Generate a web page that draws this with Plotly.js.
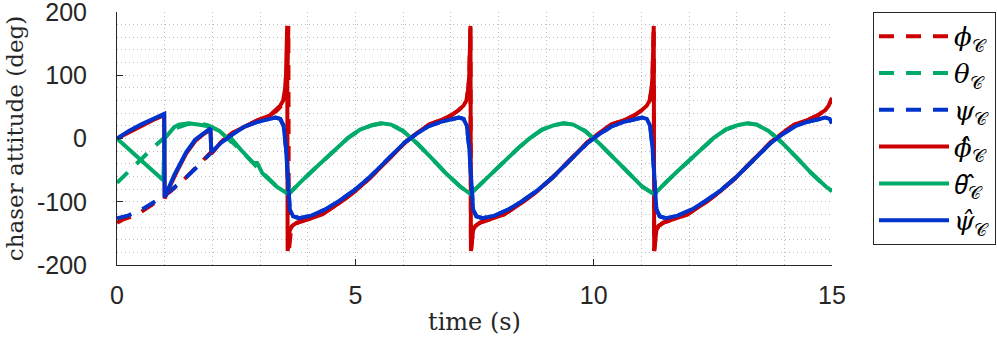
<!DOCTYPE html>
<html>
<head>
<meta charset="utf-8">
<script src="https://cdn.plot.ly/plotly-3.0.1.min.js"></script>
<style>
  html, body { margin: 0; padding: 0; background: #fff; }
  #att-plot { width: 997px; height: 347px; }
</style>
</head>
<body>
<div id="att-plot"></div>
<script>
// true attitude (dashed)
var tPhi = [0, 0.13, 0.43, 0.83, 1.13, 1.43, 1.68, 1.93, 2.18, 2.43, 2.68, 2.98, 3.2,
  3.35, 3.45, 3.51, 3.55, 3.57, 3.585, 3.595, 3.605, 3.62, 3.65, 3.7, 3.8, 4.0, 4.3,
  4.7, 5.0, 5.3, 5.55, 5.8, 6.05, 6.3, 6.55, 6.82, 7.02,
  7.17, 7.27, 7.33, 7.37, 7.39, 7.405, 7.415, 7.425, 7.44, 7.47, 7.52, 7.62, 7.82, 8.12,
  8.52, 8.82, 9.12, 9.37, 9.62, 9.87, 10.12, 10.37, 10.665, 10.865,
  11.015, 11.115, 11.175, 11.215, 11.235, 11.25, 11.26, 11.27, 11.285, 11.315, 11.365, 11.465, 11.665, 11.965,
  12.365, 12.665, 12.965, 13.215, 13.465, 13.715, 13.965, 14.215, 14.51, 14.71, 14.86, 14.93, 15.0];
var phiTrue = [-133, -128, -120, -100, -83, -63, -44, -24, -6, 9, 19, 30, 36,
  44, 52, 60, 78, 100, 140, 178, -178, -158, -145, -138, -133, -128, -120,
  -100, -83, -63, -44, -24, -6, 9, 22, 30, 37,
  45, 52, 60, 78, 100, 140, 178, -178, -158, -145, -138, -133, -128, -120,
  -100, -83, -63, -44, -24, -6, 9, 22, 30, 37,
  45, 52, 60, 78, 100, 140, 178, -178, -158, -145, -138, -133, -128, -120,
  -100, -83, -63, -44, -24, -6, 9, 22, 30, 37, 45, 52, 64];

var tTheta = [0, 0.25, 0.5, 0.75, 1.0, 1.25, 1.5, 1.7, 1.9, 2.15, 2.45, 2.75, 3.05, 3.35, 3.6,
  3.7, 3.85, 4.1, 4.35, 4.6, 4.85, 5.1, 5.35, 5.55, 5.75, 6.0, 6.3, 6.6, 6.9, 7.2, 7.42,
  7.52, 7.67, 7.92, 8.17, 8.42, 8.67, 8.92, 9.17, 9.37, 9.57, 9.82, 10.12, 10.42, 10.72, 11.02, 11.27,
  11.37, 11.52, 11.77, 12.02, 12.27, 12.52, 12.77, 13.02, 13.22, 13.42, 13.67, 13.97, 14.27, 14.57, 14.87, 15.0];
var thetaTrue = [-70, -51, -33, -15, 2, 17, 23, 24, 21, 12, -8, -31, -55, -76, -88,
  -80, -69, -51, -33, -15, 1, 14, 21, 24, 22, 12, -8, -31, -55, -76, -88,
  -80, -69, -51, -33, -15, 1, 14, 21, 24, 22, 12, -8, -31, -55, -76, -88,
  -80, -69, -51, -33, -15, 1, 14, 21, 24, 22, 12, -8, -31, -55, -76, -83];

var tPsi = [0, 0.23, 0.53, 0.83, 1.13, 1.43, 1.68, 1.93, 2.18, 2.43, 2.68, 2.93, 3.18,
  3.325, 3.425, 3.495, 3.545, 3.585, 3.625, 3.695, 3.825,
  4.075, 4.375, 4.675, 4.975, 5.275, 5.525, 5.775, 6.025, 6.275, 6.525, 6.775, 7.025,
  7.17, 7.27, 7.34, 7.39, 7.43, 7.47, 7.54, 7.67,
  7.92, 8.22, 8.52, 8.82, 9.12, 9.37, 9.62, 9.87, 10.12, 10.37, 10.62, 10.87,
  11.015, 11.115, 11.185, 11.235, 11.275, 11.315, 11.385, 11.515,
  11.765, 12.065, 12.365, 12.665, 12.965, 13.215, 13.465, 13.715, 13.965, 14.215, 14.465, 14.715,
  14.86, 14.95, 15.0];
var psiTrue = [-126, -122, -112, -98, -82, -63, -45, -25, -7, 7, 19, 26, 30,
  33, 31, 20, -15, -80, -112, -123, -126,
  -122, -112, -98, -82, -63, -45, -25, -7, 7, 19, 26, 30,
  33, 31, 20, -15, -80, -112, -123, -126,
  -122, -112, -98, -82, -63, -45, -25, -7, 7, 19, 26, 30,
  33, 31, 20, -15, -80, -112, -123, -126,
  -122, -112, -98, -82, -63, -45, -25, -7, 7, 19, 26, 30,
  33, 31, 24];

// estimates (solid): transient part before they lock onto the true values
var tPhiHatStart = [0, 0.25, 0.5, 0.75, 0.99, 1.0, 1.1, 1.2, 1.29, 1.45, 1.64, 1.8, 1.96, 1.98,
  2.18, 2.43, 2.68, 2.98, 3.2,
  3.325, 3.425, 3.485, 3.525, 3.545, 3.56, 3.57, 3.58, 3.595, 3.625, 3.675, 3.775, 3.975];
var phiHatStart = [0, 10, 20, 29, 37, -95, -77, -60, -47, -24, -4, 6, 14, -24,
  -6, 9, 19, 30, 36,
  44, 52, 60, 78, 100, 140, 178, -178, -158, -145, -138, -133, -128];

var tThetaHatStart = [0, 0.5, 0.97, 1.0, 1.1, 1.2, 1.3, 1.5, 1.7, 1.95, 2.15, 2.38, 2.41, 2.6, 2.9, 2.93, 3.05, 3.35];
var thetaHatStart = [0, -34, -66, 0, 10, 18, 22, 24, 22, 19, 12, -4, -1, -18, -42, -37, -55, -76];

var tPsiHatStart = [0, 0.25, 0.5, 0.75, 0.99, 1.0, 1.1, 1.2, 1.29, 1.45, 1.64, 1.8, 1.96, 1.98];
var psiHatStart = [0, 12, 22, 31, 39, -93, -75, -58, -45, -22, -2, 8, 16, -22];

var yTicks = [-200, -100, 0, 100, 200];
var yTickText = ['-200', '-100', '0', '100', '200'];
var xTicks = [0, 5, 10, 15];

var red = 'rgb(204,0,0)';
var green = 'rgb(0,170,105)';
var blue = 'rgb(0,50,204)';

// after the start the estimate follows the true curve
function joinTail(tStart, vStart, tTrue, vTrue) {
  var tEnd = tStart[tStart.length - 1];
  var k = tTrue.findIndex(t => t > tEnd);
  return {x: tStart.concat(tTrue.slice(k)), y: vStart.concat(vTrue.slice(k))};
}
var phiHat = joinTail(tPhiHatStart, phiHatStart, tPhi, phiTrue);
var thetaHat = joinTail(tThetaHatStart, thetaHatStart, tTheta, thetaTrue);
var psiHat = joinTail(tPsiHatStart, psiHatStart, tPsi, psiTrue);

var dashLine = '15px,12px';
var traces = [
  {x: tPhi, y: phiTrue, mode: 'lines', name: '<i>ϕ</i><sub>𝒞</sub>', line: {color: red, width: 4, dash: dashLine}},
  {x: tTheta, y: thetaTrue, mode: 'lines', name: '<i>θ</i><sub>𝒞</sub>', line: {color: green, width: 4, dash: dashLine}},
  {x: tPsi, y: psiTrue, mode: 'lines', name: '<i>ψ</i><sub>𝒞</sub>', line: {color: blue, width: 4, dash: dashLine}},
  {x: phiHat.x, y: phiHat.y, mode: 'lines', name: '<i>ϕ̂</i><sub>𝒞</sub>', line: {color: red, width: 4}},
  {x: thetaHat.x, y: thetaHat.y, mode: 'lines', name: '<span style="font-family:Noto Sans"><i>θ̂</i></span><sub>𝒞</sub>', line: {color: green, width: 4}},
  {x: psiHat.x, y: psiHat.y, mode: 'lines', name: '<i>ψ̂</i><sub>𝒞</sub>', line: {color: blue, width: 4}}
];

var axisFont = {family: 'Liberation Sans, Arial, sans-serif', size: 25, color: '#262626'};

var layout = {
  width: 997, height: 347,
  margin: {l: 117, r: 165, t: 12, b: 82},
  paper_bgcolor: '#fff', plot_bgcolor: '#fff',
  showlegend: true,
  legend: {xref: 'container', yref: 'container', x: 0.999, y: 0.966, xanchor: 'right', yanchor: 'top',
    maxheight: 330,
    bordercolor: '#262626', borderwidth: 1, bgcolor: '#fff',
    font: {family: 'DejaVu Serif, serif', size: 26, color: '#000'},
    itemwidth: 70, tracegroupgap: 0},
  xaxis: {
    range: [0, 15], tickvals: xTicks, ticks: 'inside', ticklen: 6, tickcolor: '#262626',
    showline: true, linecolor: '#262626', linewidth: 1, zeroline: false, mirror: false,
    showgrid: true, gridcolor: '#bdbdbd', griddash: '1px,3px', gridwidth: 1,
    minor: {dtick: 1, showgrid: true, gridcolor: '#bdbdbd', griddash: '1px,3px', gridwidth: 1},
    tickfont: axisFont, ticklabelstandoff: 8, ticklabeloverflow: 'allow',
    title: {text: 'time (s)', font: {family: 'DejaVu Serif, serif', size: 24, color: '#262626'}, standoff: 5}
  },
  yaxis: {
    range: [-200, 200], tickvals: yTicks, ticktext: yTickText, ticks: 'inside', ticklen: 6, tickcolor: '#262626',
    showline: true, linecolor: '#262626', linewidth: 1, zeroline: false, mirror: false,
    showgrid: true, gridcolor: '#bdbdbd', griddash: '1px,3px', gridwidth: 1,
    minor: {dtick: 20, showgrid: true, gridcolor: '#bdbdbd', griddash: '1px,3px', gridwidth: 1},
    tickfont: axisFont, ticklabelstandoff: 24, ticklabeloverflow: 'allow',
    title: {text: 'chaser attitude (deg)', font: {family: 'DejaVu Serif, serif', size: 23, color: '#262626'}, standoff: 6}
  }
};

Plotly.newPlot('att-plot', traces, layout, {displayModeBar: false, staticPlot: true});
</script>
</body>
</html>
